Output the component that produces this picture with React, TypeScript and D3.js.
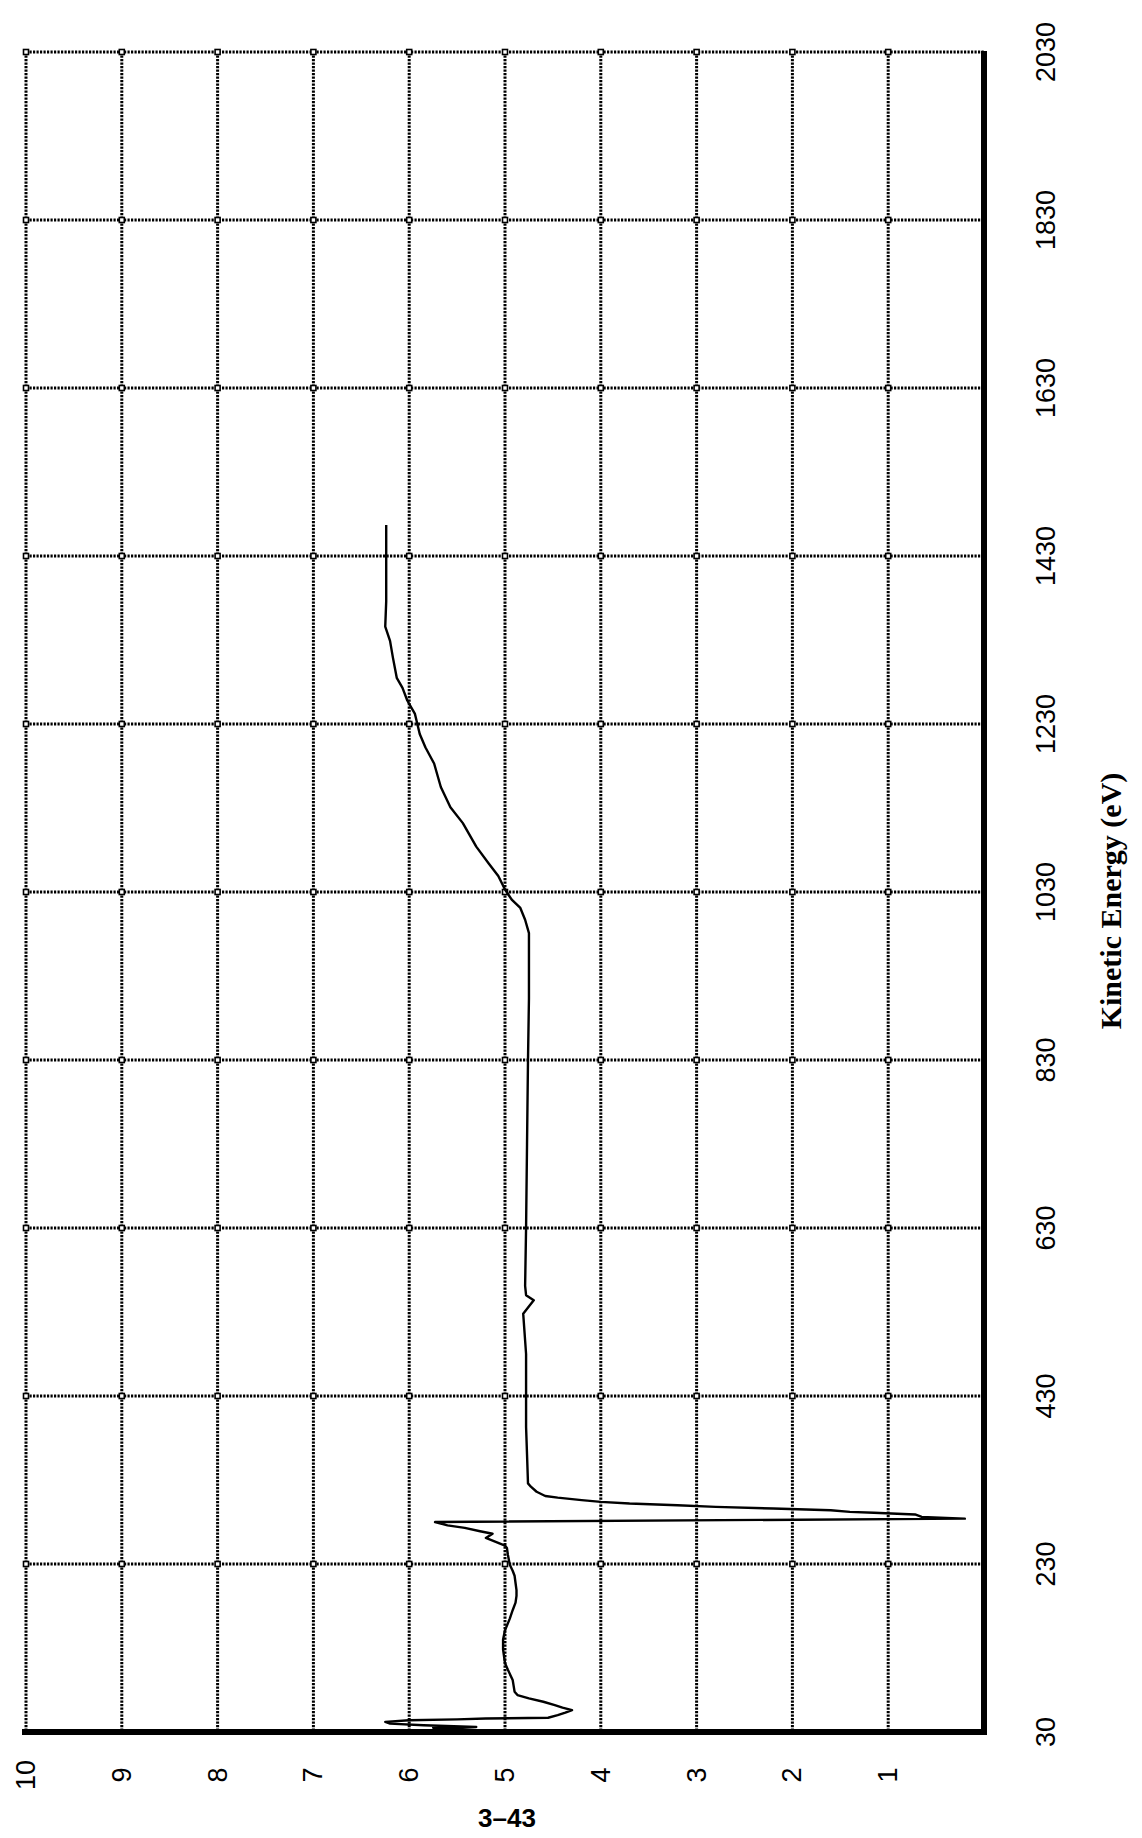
import React, { useEffect, useRef } from 'react';
import * as d3 from 'd3';

// kinetic energy (eV) of each sample
const energy = [
  31, 33, 35, 36, 38, 40, 42, 44, 45, 46, 47, 50, 53, 56, 59, 62, 66, 70, 74, 78,
  92, 104, 112, 128, 140, 151, 165, 175, 184, 192, 199, 216, 222, 229, 241, 249,
  252, 261, 266, 269, 273, 276, 280, 284, 286, 289, 291, 292, 294, 296, 298, 300,
  302, 304, 306, 309, 311, 316, 322, 326, 360, 393, 430, 480, 528, 544, 550, 561,
  630, 730, 830, 903, 981, 997, 1011, 1021, 1033, 1049, 1064, 1084, 1112, 1131,
  1155, 1183, 1202, 1218, 1242, 1258, 1273, 1285, 1309, 1329, 1346, 1376, 1430, 1467,
];

// signal at each energy
const signal = [
  5.05, 5.5, 5.75, 5.3, 5.85, 6.2, 6.25, 6.0, 5.5, 5.2, 4.55, 4.45, 4.37, 4.3, 4.4, 4.48, 4.6, 4.75, 4.87, 4.9,
  4.92, 4.97, 5.0, 5.02, 5.02, 5.0, 4.95, 4.92, 4.89, 4.88, 4.88, 4.9, 4.92, 4.95, 4.97, 4.98,
  5.0, 5.2, 5.13, 5.26, 5.42, 5.6, 5.73, 0.2, 0.65, 0.72, 1.15, 1.4, 1.6, 2.2, 2.8, 3.2,
  3.7, 4.0, 4.2, 4.45, 4.58, 4.67, 4.73, 4.76, 4.77, 4.78, 4.78, 4.78, 4.81, 4.7, 4.78, 4.79,
  4.78, 4.77, 4.76, 4.75, 4.75, 4.79, 4.84, 4.93, 5.0, 5.07, 5.17, 5.3, 5.44, 5.57,
  5.67, 5.74, 5.83, 5.89, 5.94, 6.02, 6.07, 6.13, 6.17, 6.2, 6.25, 6.24, 6.24, 6.24,
];

const energyTicks = [30, 230, 430, 630, 830, 1030, 1230, 1430, 1630, 1830, 2030];
const valueTicks = [10, 9, 8, 7, 6, 5, 4, 3, 2, 1];

function App() {
  const svgRef = useRef<SVGSVGElement>(null);
  const width = 1142;
  const height = 1838;

  useEffect(() => {
    const svg = d3.select(svgRef.current);
    svg.selectAll('*').remove();

    // page is printed sideways: energy runs bottom -> top, value runs right -> left
    const left = 26, right = 984, top = 52, bottom = 1732;

    const x = d3.scaleLinear().domain([10, 0]).range([left, right]);
    const y = d3.scaleLinear().domain([30, 2030]).range([bottom, top]);

    svg.append('rect').attr('width', width).attr('height', height).attr('fill', '#fff');

    const grid = svg.append('g')
      .attr('stroke', '#000')
      .attr('stroke-width', 3)
      .attr('stroke-dasharray', '2.2,1.3');

    grid.selectAll('line.h')
      .data(energyTicks.slice(1))
      .enter()
      .append('line')
      .attr('x1', left).attr('x2', right)
      .attr('y1', d => y(d)).attr('y2', d => y(d));

    grid.selectAll('line.v')
      .data([...valueTicks])
      .enter()
      .append('line')
      .attr('y1', top).attr('y2', bottom)
      .attr('x1', d => x(d)).attr('x2', d => x(d));

    // little squares where grid lines cross
    const crossings = [];
    energyTicks.slice(1).forEach(e => valueTicks.forEach(v => crossings.push([e, v])));
    svg.append('g')
      .selectAll('rect')
      .data(crossings)
      .enter()
      .append('rect')
      .attr('x', d => x(d[1]) - 2.5)
      .attr('y', d => y(d[0]) - 2.5)
      .attr('width', 5)
      .attr('height', 5)
      .attr('fill', '#fff')
      .attr('stroke', '#000')
      .attr('stroke-width', 1.6);

    // solid frame on the bottom and right
    svg.append('line')
      .attr('x1', left - 4).attr('x2', right + 3)
      .attr('y1', bottom).attr('y2', bottom)
      .attr('stroke', '#000').attr('stroke-width', 6);
    svg.append('line')
      .attr('x1', right).attr('x2', right)
      .attr('y1', top - 1).attr('y2', bottom)
      .attr('stroke', '#000').attr('stroke-width', 6);

    const pts = energy.map((e, i) => [e, signal[i]]);
    const line = d3.line()
      .x(d => x(d[1]))
      .y(d => y(d[0]));

    svg.append('path')
      .datum(pts)
      .attr('d', line)
      .attr('fill', 'none')
      .attr('stroke', '#000')
      .attr('stroke-width', 2.4)
      .attr('stroke-linejoin', 'round');

    // energy tick labels, rotated
    svg.append('g')
      .selectAll('text')
      .data(energyTicks)
      .enter()
      .append('text')
      .attr('transform', d => `translate(1046, ${y(d)}) rotate(-90)`)
      .attr('text-anchor', 'middle')
      .attr('dominant-baseline', 'central')
      .style('font-family', '"Liberation Sans", Arial, sans-serif')
      .style('font-size', '27px')
      .text(d => d);

    svg.append('g')
      .selectAll('text')
      .data(valueTicks)
      .enter()
      .append('text')
      .attr('transform', d => `translate(${x(d)}, 1775) rotate(-90)`)
      .attr('text-anchor', 'middle')
      .attr('dominant-baseline', 'central')
      .style('font-family', '"Liberation Sans", Arial, sans-serif')
      .style('font-size', '27px')
      .text(d => d);

    svg.append('text')
      .attr('transform', 'translate(1121, 901) rotate(-90)')
      .attr('text-anchor', 'middle')
      .style('font-family', '"Liberation Serif", "Times New Roman", serif')
      .style('font-weight', 'bold')
      .style('font-size', '30px')
      .text('Kinetic Energy (eV)');

    svg.append('text')
      .attr('x', 507)
      .attr('y', 1818)
      .attr('text-anchor', 'middle')
      .attr('dominant-baseline', 'central')
      .style('font-family', '"Liberation Sans", Arial, sans-serif')
      .style('font-weight', 'bold')
      .style('font-size', '26px')
      .text('3–43');
  }, []);

  return (
    <svg
      ref={svgRef}
      width={width}
      height={height}
      style={{ position: 'absolute', left: 0, top: 0, display: 'block' }}
    ></svg>
  );
}

export default App;
